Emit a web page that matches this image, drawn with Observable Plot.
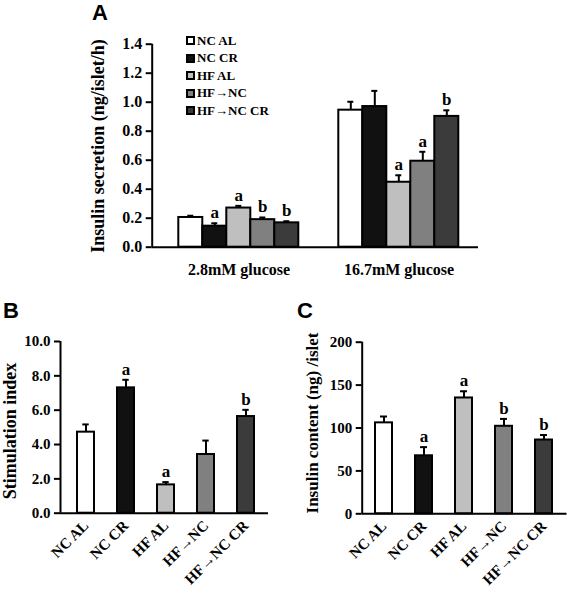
<!DOCTYPE html>
<html><head><meta charset="utf-8">
<script src="https://cdn.jsdelivr.net/npm/d3@7"></script>
<script src="https://cdn.jsdelivr.net/npm/@observablehq/plot@0.6"></script>
<style>
body{margin:0;background:#fff;}
#fig{position:relative;width:567px;height:597px;overflow:hidden;background:#fff;font-family:"Liberation Serif","Times New Roman",serif;font-weight:bold;color:#000;}
#fig svg{position:absolute;}
.lab{position:absolute;white-space:nowrap;transform:translate(-50%,-50%) rotate(-90deg);font-size:18px;line-height:1;}
.pl{position:absolute;font-family:"Liberation Sans",Arial,sans-serif;font-weight:bold;font-size:22px;line-height:normal;}
#legend{position:absolute;left:186px;top:32px;font-size:13px;}
#legend .row{display:flex;align-items:center;height:17.5px;}
#legend .sw{width:9px;height:9px;box-sizing:border-box;border:2px solid #000;margin-right:2px;}
[aria-label="y-axis"] line,[aria-label="y-axis tick"],[aria-label="y-axis tick"] path{stroke-width:2px;}
</style></head><body><div id="fig"></div>
<script>
// ---- data ----
const groups = ["NC AL", "NC CR", "HF AL", "HF→NC", "HF→NC CR"];
const fills = ["#ffffff", "#111111", "#bfbfbf", "#808080", "#3b3b3b"];
const glucose = ["2.8mM glucose", "16.7mM glucose"];

const secretionLow = [0.205, 0.145, 0.27, 0.19, 0.168];
const secretionLowErr = [0.012, 0.02, 0.015, 0.015, 0.011];
const secretionLowSig = ["", "a", "a", "b", "b"];
const secretionHigh = [0.945, 0.97, 0.448, 0.593, 0.902];
const secretionHighErr = [0.058, 0.108, 0.048, 0.065, 0.042];
const secretionHighSig = ["", "", "a", "a", "b"];

const stimIndex = [4.72, 7.30, 1.65, 3.42, 5.63];
const stimErr = [0.45, 0.47, 0.16, 0.81, 0.39];
const stimSig = ["", "a", "a", "", "b"];

const content = [106, 67.6, 135, 102, 86];
const contentErr = [7.4, 10.1, 7.8, 8.6, 5.8];
const contentSig = ["", "a", "a", "b", "b"];

const ticksA = [0, 0.2, 0.4, 0.6, 0.8, 1.0, 1.2, 1.4];
const ticksB = [0, 2, 4, 6, 8, 10];
const ticksC = [0, 50, 100, 150, 200];

// ---- build rows ----
const rowsA = [];
[[secretionLow, secretionLowErr, secretionLowSig], [secretionHigh, secretionHighErr, secretionHighSig]].forEach(([v, e, s], gi) => {
  groups.forEach((g, i) => rowsA.push({glucose: glucose[gi], group: g, value: v[i], err: e[i], sig: s[i]}));
});
const rowsB = groups.map((g, i) => ({group: g, value: stimIndex[i], err: stimErr[i], sig: stimSig[i]}));
const rowsC = groups.map((g, i) => ({group: g, value: content[i], err: contentErr[i], sig: contentSig[i]}));

const fig = document.getElementById("fig");
const baseStyle = (fs) => ({fontFamily: '"Liberation Serif","Times New Roman",serif', fontWeight: "bold", fontSize: fs + "px", background: "transparent", overflow: "visible", color: "#000"});

function place(svg, left, top) { svg.style.left = left + "px"; svg.style.top = top + "px"; fig.appendChild(svg); }

function barMarks(rows, inset) {
  return [
    Plot.barY(rows, {x: "group", y: "value", fill: "group", stroke: "#000", strokeWidth: 2}),
    Plot.ruleX(rows, {x: "group", y1: "value", y2: d => d.value + d.err, stroke: "#000", strokeWidth: 2}),
    Plot.tickY(rows, {x: "group", y: d => d.value + d.err, stroke: "#000", strokeWidth: 2, insetLeft: inset, insetRight: inset}),
    Plot.text(rows, {x: "group", y: d => d.value + d.err, text: "sig", lineAnchor: "bottom", dy: -5, fontSize: 17, fontWeight: "bold", fill: "#000"})
  ];
}

function axisOverlay({width, height, ml, mr, mt, mb, ydomain, ticks, fmt, fs}) {
  return Plot.plot({
    width, height, marginLeft: ml, marginRight: mr, marginTop: mt, marginBottom: mb,
    style: baseStyle(fs),
    x: {type: "linear", domain: [0, 1], axis: null},
    y: {domain: ydomain, ticks, tickFormat: fmt, tickSize: 6, tickPadding: 4, label: null},
    marks: [
      Plot.ruleY([ydomain[0]], {stroke: "#000", strokeWidth: 2}),
      Plot.ruleX([0], {y1: ydomain[0], y2: ydomain[1], stroke: "#000", strokeWidth: 2})
    ]
  });
}

// ---- Panel A ----
const A = {width: 567, height: 290, ml: 151.7, mr: 89, mt: 43.7, mb: 43.3};
const plotA = Plot.plot({
  width: A.width, height: A.height, marginLeft: A.ml, marginRight: A.mr, marginTop: A.mt, marginBottom: A.mb,
  style: baseStyle(16),
  facet: {data: rowsA, x: "glucose", marginTop: 0, marginBottom: 0, marginLeft: 0, marginRight: 0},
  fx: {domain: glucose, label: null, axis: "bottom", tickSize: 0, tickPadding: 16, paddingInner: 0.006, paddingOuter: 0.02, align: 1},
  x: {domain: groups, axis: null, paddingInner: 0, paddingOuter: 0.703, align: 0.5},
  y: {domain: [0, 1.4], axis: null},
  color: {domain: groups, range: fills},
  marks: barMarks(rowsA, 9)
});
place(plotA, 0, 0);
place(axisOverlay({...A, ydomain: [0, 1.4], ticks: ticksA, fmt: d3.format(".1f"), fs: 16}), 0, 0);

// ---- Panel B ----
const B = {width: 280, height: 307, ml: 60, mr: 12, mt: 51, mb: 84.3};
const plotB = Plot.plot({
  width: B.width, height: B.height, marginLeft: B.ml, marginRight: B.mr, marginTop: B.mt, marginBottom: B.mb,
  style: baseStyle(15),
  x: {domain: groups, label: null, paddingInner: 0.57, paddingOuter: 0.36, align: 0.55, tickSize: 0, tickPadding: 10, tickRotate: -45},
  y: {domain: [0, 10], axis: null},
  color: {domain: groups, range: fills},
  marks: barMarks(rowsB, 5.3)
});
place(plotB, 0, 290);
place(axisOverlay({...B, ydomain: [0, 10], ticks: ticksB, fmt: d3.format(".1f"), fs: 15}), 0, 290);

// ---- Panel C ----
const C = {width: 287, height: 307, ml: 81.7, mr: 0.5, mt: 51.7, mb: 83.7};
const plotC = Plot.plot({
  width: C.width, height: C.height, marginLeft: C.ml, marginRight: C.mr, marginTop: C.mt, marginBottom: C.mb,
  style: baseStyle(15),
  x: {domain: groups, label: null, paddingInner: 0.568, paddingOuter: 0.343, align: 0.5, tickSize: 0, tickPadding: 10, tickRotate: -45},
  y: {domain: [0, 200], axis: null},
  color: {domain: groups, range: fills},
  marks: barMarks(rowsC, 5)
});
place(plotC, 280, 290);
place(axisOverlay({...C, ydomain: [0, 200], ticks: ticksC, fmt: d3.format("d"), fs: 15}), 280, 290);

// ---- HTML texts ----
function addDiv(cls, text, css) {
  const d = document.createElement("div"); d.className = cls; d.textContent = text;
  Object.assign(d.style, css); fig.appendChild(d); return d;
}
addDiv("pl", "A", {left: "92px", top: "0px"});
addDiv("pl", "B", {left: "3px", top: "298px"});
addDiv("pl", "C", {left: "297px", top: "298px"});
addDiv("lab", "Insulin secretion (ng/islet/h)", {left: "98px", top: "146px"});
addDiv("lab", "Stimulation index", {left: "10px", top: "431px"});
addDiv("lab", "Insulin content (ng) /islet", {left: "312px", top: "423px", fontSize: "17px"});

const legend = document.createElement("div"); legend.id = "legend";
groups.forEach((g, i) => {
  const row = document.createElement("div"); row.className = "row";
  const sw = document.createElement("span"); sw.className = "sw"; sw.style.background = fills[i];
  const t = document.createElement("span"); t.textContent = g;
  row.appendChild(sw); row.appendChild(t); legend.appendChild(row);
});
fig.appendChild(legend);
</script></body></html>
